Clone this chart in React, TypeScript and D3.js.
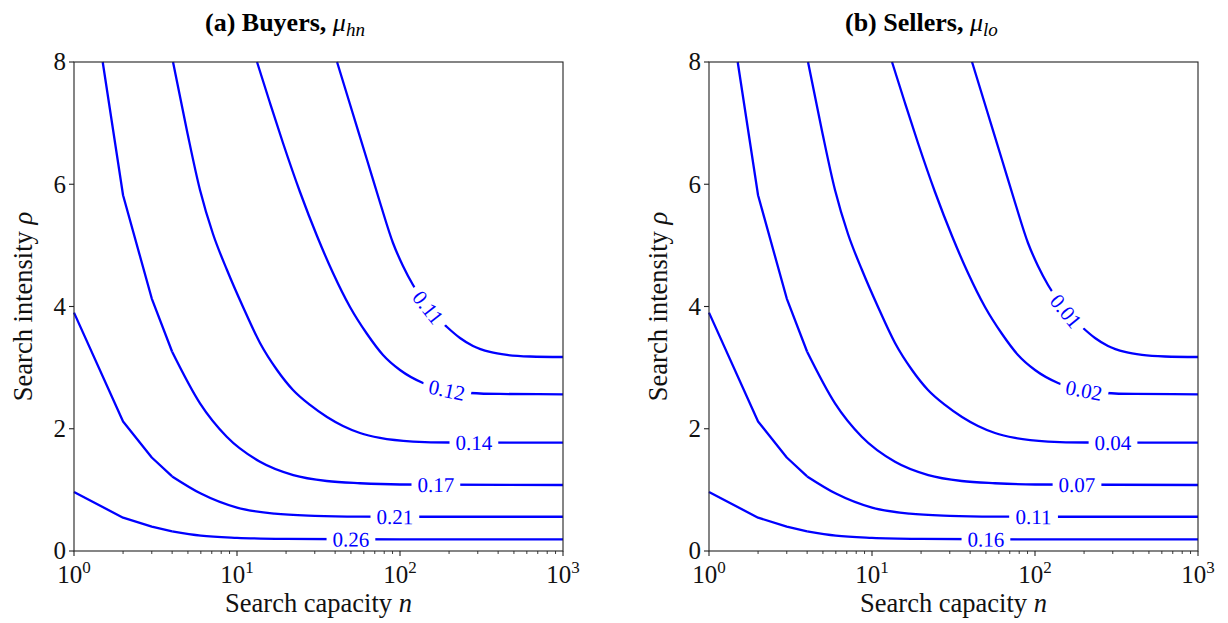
import React from "react";
import * as d3 from "d3";

const W = 1228;
const H = 623;

// axes domains and ticks
const nDomain: [number, number] = [1, 1000];
const rhoDomain: [number, number] = [0, 8];
const yTickValues = [0, 2, 4, 6, 8];
const xTickExponents = [0, 1, 2, 3];

// contour lines: [n, rho]
const contour1: [number, number][] = [[1, 0.965], [2, 0.545], [3, 0.4], [4, 0.32], [6, 0.25], [10, 0.215], [20, 0.198], [50, 0.192], [100, 0.19], [1000, 0.19]];
const contour2: [number, number][] = [[1, 3.9], [2, 2.12], [3, 1.53], [4, 1.22], [6, 0.94], [10, 0.71], [17, 0.61], [30, 0.575], [57, 0.562], [100, 0.56], [1000, 0.56]];
const contour3: [number, number][] = [[1.5, 8], [2, 5.82], [3, 4.13], [4, 3.26], [5.93, 2.416], [8.65, 1.87], [13.84, 1.461], [22.15, 1.243], [35.5, 1.145], [56.8, 1.108], [100, 1.088], [1000, 1.08]];
const contour4: [number, number][] = [[4.05, 8], [4.935, 6.871], [5.93, 5.906], [7.125, 5.186], [8.683, 4.597], [10.89, 3.992], [13.84, 3.403], [17.6, 2.961], [22.06, 2.634], [28.05, 2.389], [35.66, 2.192], [44.7, 2.045], [56.83, 1.93], [75.4, 1.849], [120.2, 1.791], [202.6, 1.775], [1000, 1.772]];
const contour5: [number, number][] = [[13.27, 8], [15.94, 7.329], [19.15, 6.675], [24.35, 5.873], [30.97, 5.153], [38.81, 4.548], [49.35, 3.992], [62.8, 3.55], [78.65, 3.207], [100, 2.961], [138.4, 2.749], [194.2, 2.634], [268.8, 2.585], [410.8, 2.569], [1000, 2.564]];
const contour6: [number, number][] = [[41.1, 8], [50.8, 7.198], [62.8, 6.397], [75.4, 5.701], [90.6, 5.039], [104.3, 4.663], [120.2, 4.352], [152.8, 3.943], [194.2, 3.665], [233.4, 3.485], [280.5, 3.354], [356.6, 3.256], [453.3, 3.207], [627.3, 3.182], [1000, 3.174]];
const contours = [contour1, contour2, contour3, contour4, contour5, contour6];

// level labels and where (in n) they sit along each contour
const buyerLevels = ["0.26", "0.21", "0.17", "0.14", "0.12", "0.11"];
const buyerLabelN = [50, 93, 166, 284, 194, 149];
const sellerLevels = ["0.16", "0.11", "0.07", "0.04", "0.02", "0.01"];
const sellerLabelN = [50, 98, 181, 301, 200, 155];

const panels = [
  { left: 74, titleX: 205, title: "(a) Buyers, ", sub: "hn", levels: buyerLevels, labelN: buyerLabelN },
  { left: 709, titleX: 845, title: "(b) Sellers, ", sub: "lo", levels: sellerLevels, labelN: sellerLabelN },
];

const PLOT_W = 489;
const TOP = 62;
const BOTTOM = 551;
const BLUE = "#0000ff";
const FONT = "'Liberation Serif', 'DejaVu Serif', serif";
const LABEL_FS = 21;
const TICK_FS = 25;
const AXIS_FS = 26.5;

function textWidth(s: string, fs: number) {
  let w = 0;
  for (const c of s) w += c === "." ? 0.25 : 0.5;
  return w * fs;
}

function interpY(pts: [number, number][], x: number) {
  for (let i = 0; i < pts.length - 1; i++) {
    const [x0, y0] = pts[i];
    const [x1, y1] = pts[i + 1];
    if (x >= x0 && x <= x1) return y0 + ((y1 - y0) * (x - x0)) / (x1 - x0 || 1);
  }
  return pts[pts.length - 1][1];
}

function Panel({ p }: { p: (typeof panels)[number] }) {
  const x = d3.scaleLog().domain(nDomain).range([p.left, p.left + PLOT_W]);
  const y = d3.scaleLinear().domain(rhoDomain).range([BOTTOM, TOP]);
  const lineLin = d3.line<[number, number]>().x((d) => x(d[0])).y((d) => y(d[1]));
  const lineSmooth = d3
    .line<[number, number]>()
    .x((d) => x(d[0]))
    .y((d) => y(d[1]))
    .curve(d3.curveMonotoneX);

  const minorTicks: number[] = [];
  for (let e = 0; e < 3; e++) for (let k = 2; k <= 9; k++) minorTicks.push(k * Math.pow(10, e));

  const labels = contours.map((c, i) => {
    const pix: [number, number][] = c.map((d) => [x(d[0]), y(d[1])]);
    const lx = x(p.labelN[i]);
    const ly = interpY(pix, lx);
    const a = interpY(pix, lx - 12);
    const b = interpY(pix, lx + 12);
    const ang = (Math.atan2(b - a, 24) * 180) / Math.PI;
    const tw = textWidth(p.levels[i], LABEL_FS);
    return { lx, ly, ang, tw, text: p.levels[i] };
  });

  return (
    <g>
      {/* contour lines */}
      <g fill="none" stroke={BLUE} strokeWidth={2.3} strokeLinejoin="round">
        {contours.map((c, i) => {
          const linPart = c.filter((d) => d[0] <= 4);
          const smoothPart = c.filter((d) => d[0] >= 4);
          return (
            <g key={i}>
              {linPart.length > 1 && <path d={lineLin(linPart) || ""} />}
              {smoothPart.length > 1 && <path d={lineSmooth(smoothPart) || ""} />}
            </g>
          );
        })}
      </g>
      {/* inline labels */}
      {labels.map((l, i) => (
        <g key={i} transform={`translate(${l.lx},${l.ly}) rotate(${l.ang})`}>
          <rect x={-l.tw / 2 - 6} y={-10} width={l.tw + 12} height={20} fill="white" />
          <text x={0} y={0} dy="0.35em" textAnchor="middle" fill={BLUE} fontSize={LABEL_FS} fontFamily={FONT}>
            {l.text}
          </text>
        </g>
      ))}
      {/* frame */}
      <rect x={p.left} y={TOP} width={PLOT_W} height={BOTTOM - TOP} fill="none" stroke="#222" strokeWidth={1.1} />
      {/* y ticks */}
      {yTickValues.map((v) => (
        <g key={v}>
          <line x1={p.left - 5} x2={p.left} y1={y(v)} y2={y(v)} stroke="#222" strokeWidth={1.1} />
          <text x={p.left - 8} y={y(v)} dy="0.33em" textAnchor="end" fontSize={TICK_FS} fontFamily={FONT} fill="#111">
            {v}
          </text>
        </g>
      ))}
      {/* x ticks */}
      {minorTicks.map((v) => (
        <line key={v} x1={x(v)} x2={x(v)} y1={BOTTOM} y2={BOTTOM + 3} stroke="#222" strokeWidth={0.9} />
      ))}
      {xTickExponents.map((e) => (
        <g key={e}>
          <line x1={x(Math.pow(10, e))} x2={x(Math.pow(10, e))} y1={BOTTOM} y2={BOTTOM + 5} stroke="#222" strokeWidth={1.1} />
          <text x={x(Math.pow(10, e))} y={BOTTOM + 32} textAnchor="middle" fontSize={TICK_FS} fontFamily={FONT} fill="#111">
            10
            <tspan dy={-10} fontSize={17}>
              {e}
            </tspan>
          </text>
        </g>
      ))}
      {/* axis labels */}
      <text x={p.left + PLOT_W / 2} y={612} textAnchor="middle" fontSize={AXIS_FS} fontFamily={FONT} fill="#111">
        Search capacity <tspan fontStyle="italic">n</tspan>
      </text>
      <text
        transform={`translate(${p.left - 42},${(TOP + BOTTOM) / 2}) rotate(-90)`}
        textAnchor="middle"
        fontSize={AXIS_FS}
        fontFamily={FONT}
        fill="#111"
      >
        Search intensity <tspan fontStyle="italic">ρ</tspan>
      </text>
      {/* title */}
      <text x={p.titleX} y={31} fontSize={26} fontFamily={FONT} fill="#000">
        <tspan fontWeight="bold">{p.title}</tspan>
        <tspan fontStyle="italic">μ</tspan>
        <tspan fontStyle="italic" fontSize={19} dy={5}>
          {p.sub}
        </tspan>
      </text>
    </g>
  );
}

export default function App() {
  return (
    <svg width={W} height={H} style={{ position: "absolute", left: 0, top: 0, background: "white" }}>
      <rect x={0} y={0} width={W} height={H} fill="white" />
      {panels.map((p, i) => (
        <Panel key={i} p={p} />
      ))}
    </svg>
  );
}
